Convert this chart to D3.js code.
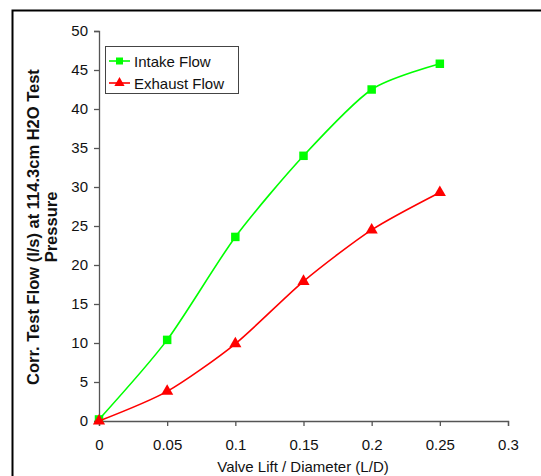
<!DOCTYPE html>
<html><head><meta charset="utf-8">
<script src="https://cdn.jsdelivr.net/npm/d3@7"></script>
<style>body{margin:0;background:#fff}svg{display:block;font-family:"Liberation Sans",Arial,sans-serif}</style>
</head><body><svg id="c" width="541" height="476"></svg>
<script>
const lift = [0, 0.05, 0.1, 0.15, 0.2, 0.25];
const intakeFlow = [0.2, 10.4, 23.6, 34.0, 42.5, 45.8];
const exhaustFlow = [0.0, 3.8, 9.9, 17.9, 24.5, 29.3];
const xTicks = [0, 0.05, 0.1, 0.15, 0.2, 0.25, 0.3];
const yTicks = [0, 5, 10, 15, 20, 25, 30, 35, 40, 45, 50];
const seriesNames = ["Intake Flow", "Exhaust Flow"];
const seriesColors = ["#00ff00", "#ff0000"];

const svg = d3.select("#c");
svg.append("rect").attr("x",12.5).attr("y",10.5).attr("width",560).attr("height",500)
  .attr("fill","none").attr("stroke","#000").attr("stroke-width",2);

const x = d3.scaleLinear().domain([0,0.3]).range([99,508]);
const y = d3.scaleLinear().domain([0,50]).range([421,31]);

const xAxis = svg.append("g").attr("transform","translate(0,421)")
  .call(d3.axisBottom(x).tickValues(xTicks).tickFormat(d=>String(d)).tickSizeOuter(0).tickSize(5).tickPadding(13));
const yAxis = svg.append("g").attr("transform","translate(99,0)")
  .call(d3.axisLeft(y).tickValues(yTicks).tickSizeOuter(0).tickSize(5).tickPadding(6));
[xAxis,yAxis].forEach(a=>{
  a.selectAll("path,line").attr("stroke","#555").attr("stroke-width",1.3);
  a.selectAll("text").attr("font-size",15).attr("fill","#111").attr("font-family","Liberation Sans, Arial, sans-serif");
});

svg.append("text").attr("x",303).attr("y",472).attr("text-anchor","middle")
  .attr("font-size",15).attr("fill","#111").text("Valve Lift / Diameter (L/D)");
const yt = svg.append("text").attr("transform","translate(39,227) rotate(-90)")
  .attr("text-anchor","middle").attr("font-size",16.5).attr("font-weight","bold").attr("fill","#111");
yt.append("tspan").attr("x",0).attr("dy",0).text("Corr. Test Flow (l/s) at 114.3cm H2O Test");
yt.append("tspan").attr("x",0).attr("dy",18).text("Pressure");

const line = d3.line().x(d=>x(d[0])).y(d=>y(d[1])).curve(d3.curveCardinal.tension(0.25));
const sym = [d3.symbolSquare, d3.symbolTriangle];
[intakeFlow, exhaustFlow].forEach((vals,i)=>{
  const pts = lift.map((l,j)=>[l, vals[j]]);
  svg.append("path").datum(pts).attr("d",line).attr("fill","none")
    .attr("stroke",seriesColors[i]).attr("stroke-width",1.6);
  svg.selectAll(null).data(pts).enter().append("path")
    .attr("transform",d=>`translate(${x(d[0])},${y(d[1])})`)
    .attr("d",d3.symbol().type(sym[i]).size(i===0?72:64)).attr("fill",seriesColors[i]);
});

const lg = svg.append("g");
lg.append("rect").attr("x",105.5).attr("y",46.5).attr("width",133).attr("height",47)
  .attr("fill","#fff").attr("stroke","#444").attr("stroke-width",1);
seriesNames.forEach((n,i)=>{
  const yy = 61 + i*22;
  lg.append("line").attr("x1",109).attr("x2",130).attr("y1",yy).attr("y2",yy)
    .attr("stroke",seriesColors[i]).attr("stroke-width",1.6);
  lg.append("path").attr("transform",`translate(119.5,${yy})`)
    .attr("d",d3.symbol().type(sym[i]).size(i===0?49:45)).attr("fill",seriesColors[i]);
  lg.append("text").attr("x",134).attr("y",yy+5.5).attr("font-size",15).attr("fill","#111").text(n);
});
</script></body></html>
